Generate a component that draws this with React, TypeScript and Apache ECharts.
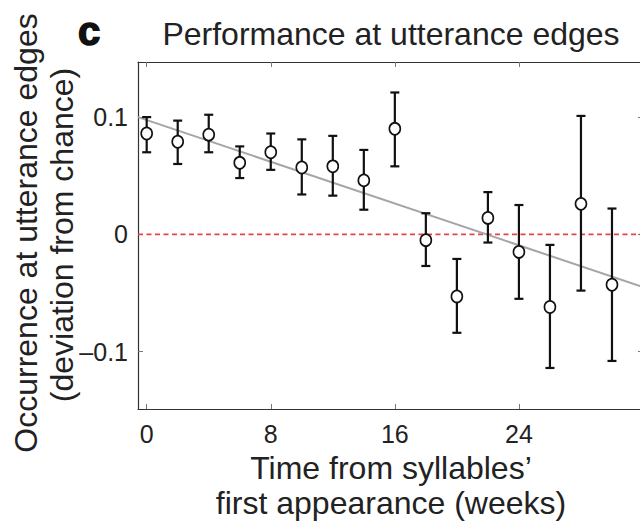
import React, { useEffect, useRef } from "react";
import * as echarts from "echarts";

const weeks = [0, 2, 4, 6, 8, 10, 12, 14, 16, 18, 20, 22, 24, 26, 28, 30];
const means = [0.086, 0.079, 0.085, 0.061, 0.070, 0.057, 0.058, 0.046, 0.090, -0.005, -0.053, 0.014, -0.015, -0.062, 0.026, -0.043];
const upper = [0.100, 0.097, 0.102, 0.075, 0.086, 0.081, 0.084, 0.072, 0.121, 0.018, -0.021, 0.036, 0.025, -0.009, 0.101, 0.022];
const lower = [0.070, 0.060, 0.070, 0.048, 0.055, 0.034, 0.033, 0.021, 0.058, -0.027, -0.084, -0.007, -0.055, -0.114, -0.048, -0.108];
const fitX = [-0.56, 32];
const fitY = [0.100, -0.045];
const xTicks = [0, 8, 16, 24];
const yTicks = [-0.1, 0, 0.1];

const FONT = "'Liberation Sans', Arial, Helvetica, sans-serif";

export default function App() {
  const ref = useRef<HTMLDivElement>(null);
  useEffect(() => {
    const chart = echarts.init(ref.current!, null, { renderer: "svg" });
    const xMin = -0.56, xMax = 32, yMin = -0.149, yMax = 0.147;
    const tickStyle = { show: true, inside: true, length: 5, lineStyle: { color: "#777", width: 1 } };
    const lineStyle = { color: "#333", width: 1.2 };
    const option: any = {
      animation: false,
      backgroundColor: "#fff",
      grid: { left: 138, right: 0, top: 62, bottom: 112 },
      xAxis: [
        {
          type: "value", min: xMin, max: xMax, position: "bottom",
          axisLine: { show: true, onZero: false, lineStyle },
          axisTick: { ...tickStyle, customValues: xTicks },
          axisLabel: { customValues: xTicks, color: "#222", fontSize: 25, fontFamily: FONT, margin: 12 },
          splitLine: { show: false },
        },
        {
          type: "value", min: xMin, max: xMax, position: "top",
          axisLine: { show: true, onZero: false, lineStyle },
          axisTick: { ...tickStyle, customValues: xTicks },
          axisLabel: { show: false },
          splitLine: { show: false },
        },
      ],
      yAxis: [
        {
          type: "value", min: yMin, max: yMax, position: "left",
          axisLine: { show: true, onZero: false, lineStyle },
          axisTick: { ...tickStyle, customValues: yTicks },
          axisLabel: {
            customValues: yTicks, color: "#222", fontSize: 25, fontFamily: FONT, margin: 10,
            formatter: (v: number) => (Math.abs(v) < 1e-9 ? "0" : v < 0 ? "\u2013" + Math.abs(v).toFixed(1) : v.toFixed(1)),
          },
          splitLine: { show: false },
        },
        {
          type: "value", min: yMin, max: yMax, position: "right",
          axisLine: { show: true, onZero: false, lineStyle },
          axisTick: { ...tickStyle, customValues: yTicks },
          axisLabel: { show: false },
          splitLine: { show: false },
        },
      ],
      graphic: [
        { type: "text", x: 89, y: 31, style: { text: "c", font: `900 40px ${FONT}`, fill: "#111", align: "center", verticalAlign: "middle", stroke: "#111", lineWidth: 1.5 } },
        { type: "text", x: 391, y: 34, style: { text: "Performance at utterance edges", font: `32px ${FONT}`, fill: "#222", align: "center", verticalAlign: "middle" } },
        { type: "text", x: 391, y: 468, style: { text: "Time from syllables\u2019", font: `32px ${FONT}`, fill: "#222", align: "center", verticalAlign: "middle" } },
        { type: "text", x: 391, y: 503, style: { text: "first appearance (weeks)", font: `32px ${FONT}`, fill: "#222", align: "center", verticalAlign: "middle" } },
        { type: "text", x: 26, y: 233, rotation: Math.PI / 2, style: { text: "Occurrence at utterance edges", font: `32px ${FONT}`, fill: "#222", align: "center", verticalAlign: "middle" } },
        { type: "text", x: 62, y: 235, rotation: Math.PI / 2, style: { text: "(deviation from chance)", font: `32px ${FONT}`, fill: "#222", align: "center", verticalAlign: "middle" } },
      ],
      series: [
        {
          type: "line", name: "chance", silent: true, symbol: "none",
          data: [[xMin, 0], [xMax, 0]],
          lineStyle: { color: "#e8434c", width: 1.6, type: [5, 3.5] },
          z: 1,
        },
        {
          type: "line", name: "fit", silent: true, symbol: "none",
          data: fitX.map((x, i) => [x, fitY[i]]),
          lineStyle: { color: "#a5a5a5", width: 2 },
          z: 2,
        },
        {
          type: "custom", name: "error",
          data: weeks.map((w, i) => [w, lower[i], upper[i]]),
          renderItem: (params: any, api: any) => {
            const x = api.value(0);
            const pLo = api.coord([x, api.value(1)]);
            const pHi = api.coord([x, api.value(2)]);
            const hw = 4.5;
            const st = { stroke: "#111", lineWidth: 2.2 };
            return {
              type: "group",
              children: [
                { type: "line", shape: { x1: pLo[0], y1: pLo[1], x2: pHi[0], y2: pHi[1] }, style: st },
                { type: "line", shape: { x1: pLo[0] - hw, y1: pLo[1], x2: pLo[0] + hw, y2: pLo[1] }, style: st },
                { type: "line", shape: { x1: pHi[0] - hw, y1: pHi[1], x2: pHi[0] + hw, y2: pHi[1] }, style: st },
              ],
            };
          },
          z: 3,
        },
        {
          type: "scatter", name: "mean",
          data: weeks.map((w, i) => [w, means[i]]),
          symbol: "circle", symbolSize: [11, 12],
          itemStyle: { color: "#fff", borderColor: "#111", borderWidth: 1.7, opacity: 1 },
          z: 4,
        },
      ],
    };
    chart.setOption(option);
    return () => chart.dispose();
  }, []);
  return <div ref={ref} style={{ position: "fixed", left: 0, top: 0, width: 643, height: 521 }} />;
}
